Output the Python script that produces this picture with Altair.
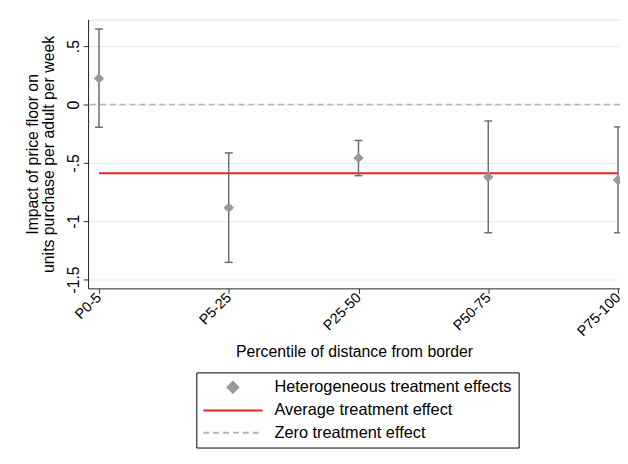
import altair as alt
import pandas as pd

# ---- data ----
groups = ["P0-5", "P5-25", "P25-50", "P50-75", "P75-100"]
estimates = [0.223, -0.884, -0.458, -0.621, -0.647]
ci_low = [-0.195, -1.353, -0.610, -1.099, -1.099]
ci_high = [0.647, -0.415, -0.308, -0.141, -0.192]
ate_value = -0.59
zero_value = 0.0
y_tick_values = [0.5, 0, -0.5, -1, -1.5]
y_tick_labels = [".5", "0", "-.5", "-1", "-1.5"]
legend_labels = ["Heterogeneous treatment effects", "Average treatment effect", "Zero treatment effect"]

FONT = "Liberation Sans"
GRAY_PT = "#999999"
GRAY_BAR = "#6e6e6e"
GRAY_ZERO = "#b4b4b4"
RED = "#f02020"

pos = list(range(1, len(groups) + 1))
df = pd.DataFrame({"pos": pos, "group": groups, "est": estimates, "lo": ci_low, "hi": ci_high})
ate_df = pd.DataFrame({"x1": [pos[0]], "x2": [pos[-1]], "y": [ate_value]})
zero_df = pd.DataFrame({"y": [zero_value]})
legend_df = pd.DataFrame({"series": legend_labels, "pos": [None] * 3, "est": [None] * 3})

x_label_expr = "[" + ",".join("'%s'" % g for g in groups) + "][datum.value - 1]"
y_label_expr = " : ".join("datum.value == %s ? '%s'" % (v, l) for v, l in zip(y_tick_values, y_tick_labels)) + " : ''"

xscale = alt.Scale(domain=[0.9162, 5.0152], nice=False, zero=False)
yscale = alt.Scale(domain=[-1.576, 0.729], nice=False, zero=False)

xaxis = alt.Axis(
    values=pos, labelExpr=x_label_expr, labelAngle=315, labelAlign="right", labelBaseline="middle",
    labelFont=FONT, labelFontSize=14.5, labelColor="#000", labelPadding=2,
    tickSize=5, tickColor="#333", domainColor="#333", grid=False,
    title="Percentile of distance from border", titleFont=FONT, titleFontSize=16, titleFontWeight="normal",
    titleColor="#000", titleY=69, titleBaseline="alphabetic",
)
yaxis = alt.Axis(
    values=y_tick_values, labelExpr=y_label_expr, labelAngle=270, labelAlign="center",
    labelBaseline="alphabetic", labelPadding=5, labelFont=FONT, labelFontSize=16, labelColor="#000",
    tickSize=5, tickColor="#333", domainColor="#222", grid=True, gridColor="#eaeaea", gridWidth=1.2,
    title=["Impact of price floor on", "units purchase per adult per week"], titleFont=FONT,
    titleFontSize=16, titleFontWeight="normal", titleColor="#000", titleAngle=270, titleX=-51,
    titleY=136, titleAlign="center", titleBaseline="alphabetic", titleLineHeight=16.5,
)

X = lambda f: alt.X(f, type="quantitative", scale=xscale, axis=xaxis)
Y = lambda f: alt.Y(f, type="quantitative", scale=yscale, axis=yaxis)

zero_line = alt.Chart(zero_df).mark_rule(color=GRAY_ZERO, strokeDash=[6, 4], strokeWidth=1.5).encode(y=Y("y"))
ate_line = alt.Chart(ate_df).mark_rule(color=RED, strokeWidth=2).encode(x=X("x1"), x2="x2", y=Y("y"))
bars = alt.Chart(df).mark_rule(color=GRAY_BAR, strokeWidth=1.5).encode(x=X("pos"), y=Y("lo"), y2="hi")
cap_lo = alt.Chart(df).mark_tick(orient="horizontal", size=8, thickness=1.5, color=GRAY_BAR, opacity=1).encode(
    x=X("pos"), y=Y("lo"))
cap_hi = alt.Chart(df).mark_tick(orient="horizontal", size=8, thickness=1.5, color=GRAY_BAR, opacity=1).encode(
    x=X("pos"), y=Y("hi"))
points = alt.Chart(df).mark_point(shape="diamond", filled=True, size=110, color=GRAY_PT, opacity=1).encode(
    x=X("pos"), y=Y("est"))

leg = alt.Legend(
    title=None, orient="none", legendX=109.5, legendY=357, padding=6, rowPadding=4.5,
    strokeColor="#000", fillColor="#fff", labelFont=FONT, labelFontSize=16.5, labelColor="#000",
    labelLimit=400, labelOffset=33, symbolOffset=22, symbolSize=256, symbolStrokeWidth=2,
)
diamond_path = "M0,-0.68L0.68,0L0,0.68L-0.68,0Z"
line_path = "M-3.75,0H3.75"
legend_layer = alt.Chart(legend_df).mark_point(filled=True, opacity=1, clip=True).encode(
    x=X("pos"), y=Y("est"),
    fill=alt.Fill("series:N", scale=alt.Scale(domain=legend_labels, range=[GRAY_PT, RED, GRAY_ZERO]), legend=leg),
    stroke=alt.Stroke("series:N", scale=alt.Scale(domain=legend_labels, range=[GRAY_PT, RED, GRAY_ZERO]), legend=leg),
    shape=alt.Shape("series:N", scale=alt.Scale(domain=legend_labels, range=[diamond_path, line_path, line_path]), legend=leg),
    strokeDash=alt.StrokeDash("series:N", scale=alt.Scale(domain=legend_labels, range=[[1, 0], [1, 0], [6, 4]]), legend=leg),
)

chart = alt.layer(zero_line, ate_line, bars, cap_lo, cap_hi, points, legend_layer).properties(
    width=538, height=272,
    autosize=alt.AutoSizeParams(type="none"),
    padding={"left": 81, "top": 9, "right": 0, "bottom": 170},
).configure_view(stroke=None).configure(background="white")

chart.save("out.html", embed_options={"renderer": "svg", "actions": False})
